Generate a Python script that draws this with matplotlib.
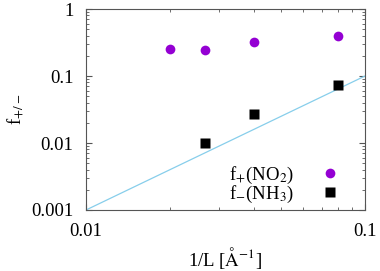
import matplotlib.pyplot as plt
import matplotlib.ticker as mticker
import numpy as np

plt.rcParams['font.family'] = ['Liberation Serif', 'DejaVu Serif']
plt.rcParams['mathtext.fontset'] = 'stix'

# data
inv_L = [0.02, 0.0266, 0.04, 0.08]
f_plus = [0.253, 0.244, 0.318, 0.395]
inv_L_minus = [0.0266, 0.04, 0.08]
f_minus = [0.0099, 0.0271, 0.0734]

# guide line f = 10 * x^2
x_line = np.array([0.01, 0.1])
y_line = 10 * x_line ** 2

fig = plt.figure(figsize=(3.8, 2.71), dpi=100)
ax = fig.add_axes([86 / 380, 1 - 210 / 271, (365 - 86) / 380, (210 - 9) / 271])

ax.plot(x_line, y_line, color='#87ceeb', lw=0.9)
ax.plot(inv_L, f_plus, 'o', color='#9400d3', ms=7, mec='none', label=r'f$_{+}$(NO$_2$)')
ax.plot(inv_L_minus, f_minus, 's', color='black', ms=6.5, mec='none', label=r'f$_{-}$(NH$_3$)')

ax.set_xscale('log')
ax.set_yscale('log')
ax.set_xlim(0.01, 0.1)
ax.set_ylim(0.001, 1)
ax.set_xticks([0.01, 0.1])
ax.set_xticklabels(['0.01', '0.1'])
ax.set_yticks([0.001, 0.01, 0.1, 1])
ax.set_yticklabels(['0.001', '0.01', '0.1', '1'])
ax.xaxis.set_minor_formatter(mticker.NullFormatter())
ax.yaxis.set_minor_formatter(mticker.NullFormatter())
ax.tick_params(which='both', direction='in', top=True, right=True, labelsize=13.5, color='#555555')
ax.tick_params(which='major', length=4, pad=9)
ax.tick_params(which='minor', length=2)
for s in ax.spines.values():
    s.set_color('#555555')

ax.set_xlabel(r'1/L [$\mathrm{\AA}^{-1}$]', fontsize=13.5, labelpad=4)
ax.set_ylabel(r'f$_{+/-}$', fontsize=13.5, labelpad=4)

ax.legend(loc='lower right', markerfirst=False, frameon=False, fontsize=13.5,
          handletextpad=1.2, labelspacing=-0.12, borderaxespad=0.0, handlelength=1.5,
          bbox_to_anchor=(0.953, -0.01))

fig.savefig('out.png', dpi=100)
